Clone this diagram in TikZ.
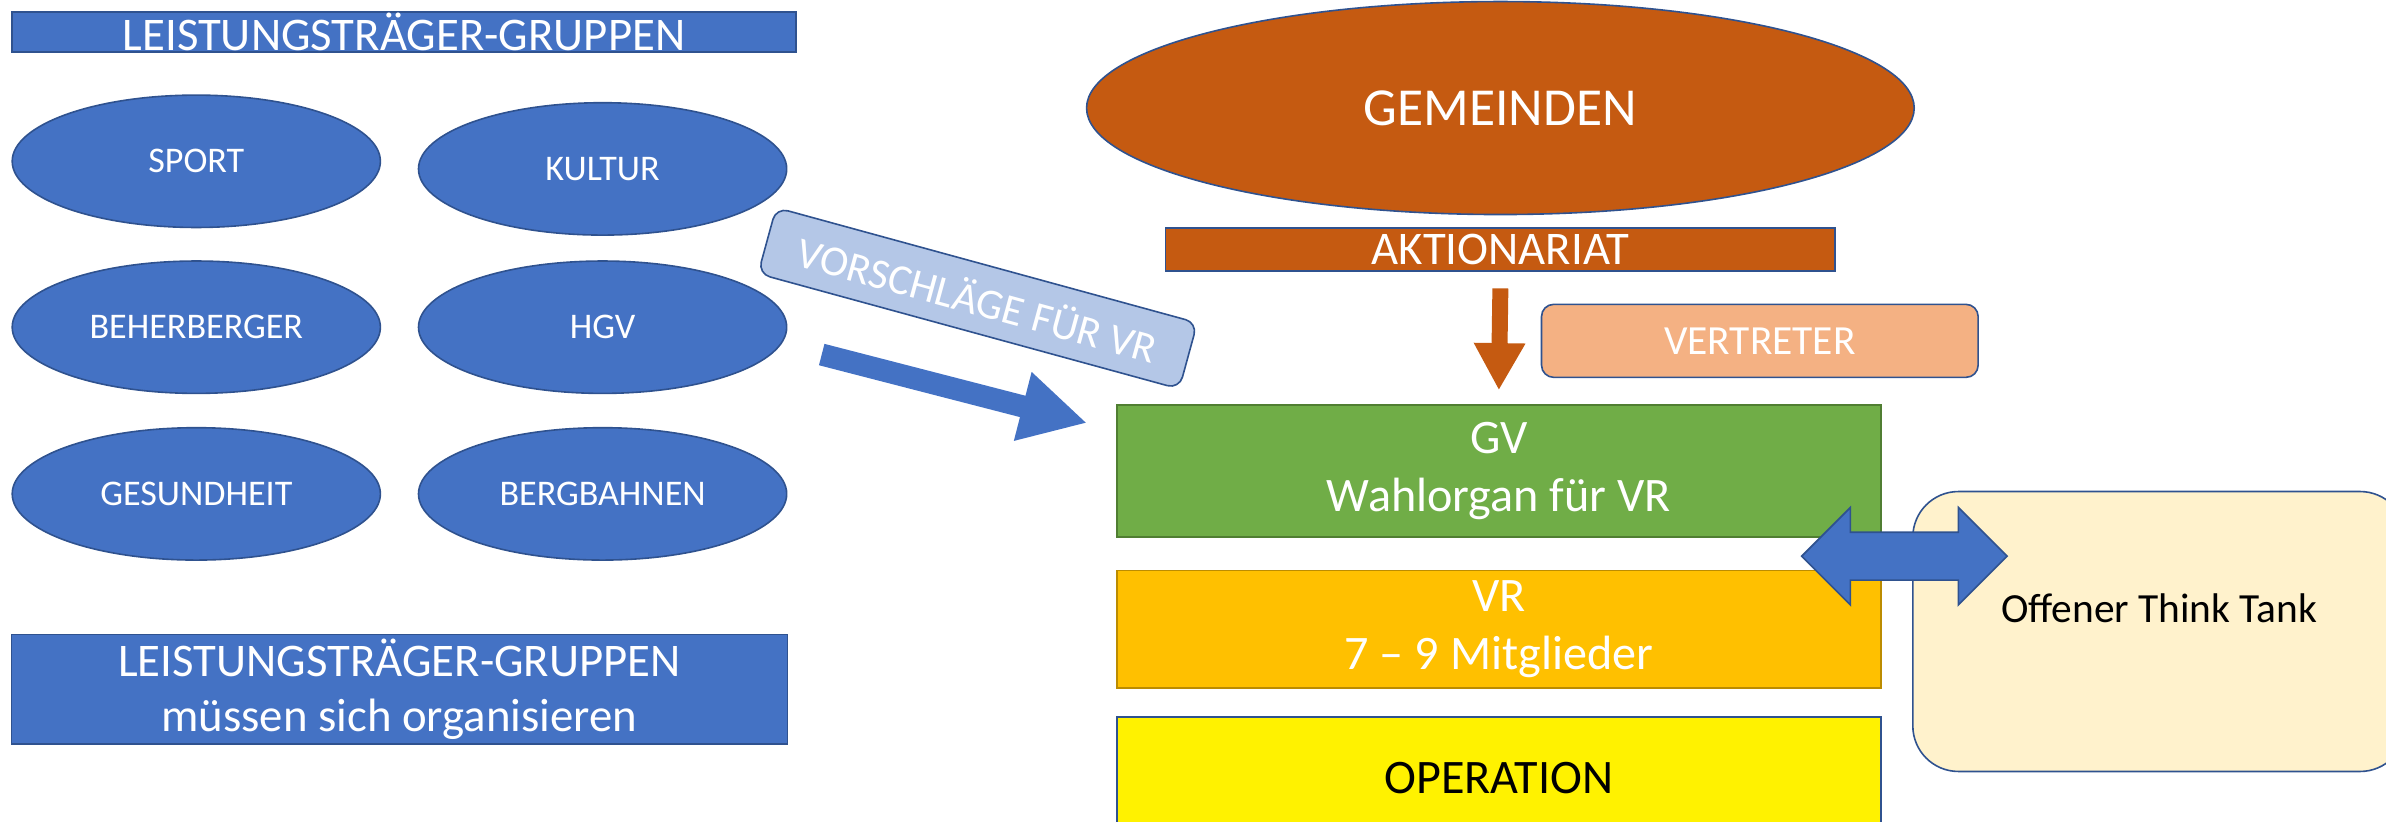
\documentclass[tikz,border=0pt]{standalone}
\usepackage{fontspec}
\setmainfont{Carlito}
\usetikzlibrary{shapes.geometric, arrows.meta, positioning}

\definecolor{grpblue}{HTML}{4472C4}
\definecolor{grpborder}{HTML}{2F528F}
\definecolor{gemorange}{HTML}{C55A11}
\definecolor{vtrorange}{HTML}{F4B183}
\definecolor{vslblue}{HTML}{B4C7E7}
\definecolor{gvgreen}{HTML}{70AD47}
\definecolor{gvborder}{HTML}{507E32}
\definecolor{vrgold}{HTML}{FFC000}
\definecolor{vrborder}{HTML}{BC8C00}
\definecolor{ttcream}{HTML}{FFF2CC}

\begin{document}
\begin{tikzpicture}[x=0.02cm, y=-0.02cm,
	box/.style={draw=grpborder, line width=0.6pt, inner sep=0pt, align=center, text=white},
	group/.style={box, ellipse, fill=grpblue, minimum width=4.84cm, minimum height=1.74cm, font=\fontsize{13.5}{16}\selectfont},
	groupbar/.style={box, rectangle, fill=grpblue, minimum width=10.3cm, font=\fontsize{17.5}{20.5}\selectfont},
	level/.style={box, rectangle, minimum width=10.04cm, font=\fontsize{18}{21.5}\selectfont},
	flowarrow/.style={line width=#1, -{Triangle[length=0.874cm, width=0.868cm]}}
]
	\useasboundingbox (0,0) rectangle (1568,540);

	\node[groupbar, minimum height=0.52cm] (title) at (265.5,21) {LEISTUNGSTRÄGER-GRUPPEN};

	\node[group] (sport) at (129,106) {SPORT};
	\node[group, right=0.48cm of sport, yshift=-0.1cm] (kultur) {KULTUR};
	\node[group, below=0.42cm of sport] (beherberger) {BEHERBERGER};
	\node[group, right=0.48cm of beherberger] (hgv) {HGV};
	\node[group, below=0.43cm of beherberger] (gesundheit) {GESUNDHEIT};
	\node[group, right=0.48cm of gesundheit] (bergbahnen) {BERGBAHNEN};

	\node[groupbar, minimum height=1.44cm, minimum width=10.2cm] (organise) at (262.5,453) {LEISTUNGSTRÄGER-GRUPPEN\\müssen sich organisieren};

	\node[box, rotate=-15.3, fill=vslblue, rounded corners=0.16cm, minimum width=5.74cm, minimum height=0.9cm, font=\fontsize{16}{19}\selectfont] (vorschlaege) at (642.5,196) {VORSCHLÄGE FÜR VR};

	\node[box, ellipse, fill=gemorange, minimum width=10.88cm, minimum height=2.8cm, font=\fontsize{20}{24}\selectfont] (gemeinden) at (986,71) {GEMEINDEN};
	\node[box, fill=gemorange, minimum width=8.8cm, minimum height=0.56cm, font=\fontsize{17.5}{20.5}\selectfont] (aktionariat) at (986,164) {AKTIONARIAT};
	\node[box, fill=vtrorange, rounded corners=0.16cm, minimum width=5.74cm, minimum height=0.96cm, font=\fontsize{15.5}{18.5}\selectfont] (vertreter) at (1156.5,224) {VERTRETER};

	\node[level, fill=gvgreen, draw=gvborder, minimum height=1.74cm] (gv) at (985,309.5) {GV\\Wahlorgan für VR};
	\node[level, fill=vrgold, draw=vrborder, minimum height=1.54cm, below=0.42cm of gv] (vr) {VR\\7 – 9 Mitglieder};
	\node[level, fill=yellow, text=black, minimum height=1.6cm, below=0.36cm of vr] (operation) {OPERATION};

	\node[box, fill=ttcream, rounded corners=0.6cm, minimum width=6.48cm, minimum height=3.68cm,
		label={[text=black, font=\fontsize{15.5}{18.5}\selectfont, yshift=0.3cm]center:Offener Think Tank}] (thinktank) at (1419,415) {};

	\coordinate (vsltail) at (540,233);
	\coordinate (vsltip) at (714.4,278);
	\draw[flowarrow=0.29cm, grpblue] (vsltail) -- (vsltip);
	\draw[line width=0.21cm, gemorange, -{Triangle[length=0.62cm, width=0.634cm]}] ([yshift=-0.22cm]aktionariat.south) -- ([yshift=0.18cm]gv.north);

	\begin{scope}[shift={(1251.5,365.5)}]
		\filldraw[fill=grpblue, draw=grpborder, line width=0.6pt] (-67.5,0) -- (-35.5,-32) -- (-35.5,-15.7) -- (35.5,-15.7) -- (35.5,-32) -- (67.5,0) -- (35.5,32) -- (35.5,15.7) -- (-35.5,15.7) -- (-35.5,32) -- cycle;
	\end{scope}
\end{tikzpicture}
\end{document}
